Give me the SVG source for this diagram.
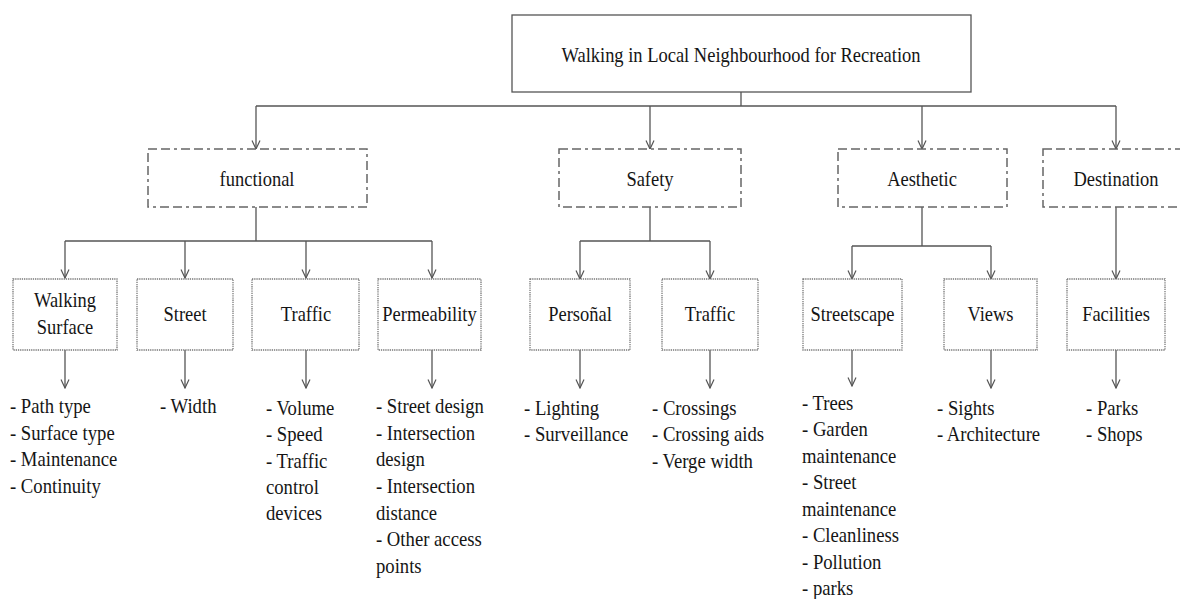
<svg xmlns="http://www.w3.org/2000/svg" width="1180" height="599" viewBox="0 0 1180 599" font-family="'Liberation Serif', 'DejaVu Serif', serif">
  <defs>
    <marker id="arrow" viewBox="0 0 10 10" refX="9.5" refY="5" markerWidth="10" markerHeight="10" markerUnits="userSpaceOnUse" orient="auto">
      <path d="M1,1 L9.5,5 L1,9" fill="none" stroke="#555" stroke-width="1.2"/>
    </marker>
    <style>
      text { font-family: 'Liberation Serif', 'DejaVu Serif', serif; font-size: 21px; fill: #151515; transform-box: fill-box; }
      .c { text-anchor: middle; transform-origin: center; transform: scaleX(0.88); }
      .l { text-anchor: start; transform-origin: left center; transform: scaleX(0.89); }
      .root { fill: #fff; stroke: #555; stroke-width: 1.3; }
      .cat { fill: #fff; stroke: #666; stroke-width: 1.5; stroke-dasharray: 9 4 9 4 3 4; }
      .sub { fill: #fff; stroke: #777; stroke-width: 1.3; stroke-dasharray: 1.3 0.9; }
      .wire { fill: none; stroke: #555; stroke-width: 1.3; }
      .arr { fill: none; stroke: #555; stroke-width: 1.3; marker-end: url(#arrow); }
    </style>
  </defs>

  <rect width="1180" height="599" fill="#fff"/>

  <!-- connectors -->
  <g id="connectors">
    <path class="wire" d="M741,92 V106 M256,106 H1116"/>
    <path class="arr" d="M256,106 V149"/>
    <path class="arr" d="M650,106 V149"/>
    <path class="arr" d="M922,106 V149"/>
    <path class="arr" d="M1116,106 V149"/>

    <path class="wire" d="M256,207 V241 M65,241 H432"/>
    <path class="arr" d="M65,241 V278"/>
    <path class="arr" d="M185,241 V278"/>
    <path class="arr" d="M306,241 V278"/>
    <path class="arr" d="M432,241 V278"/>

    <path class="wire" d="M650,207 V241 M580,241 H710"/>
    <path class="arr" d="M580,241 V279"/>
    <path class="arr" d="M710,241 V279"/>

    <path class="wire" d="M922,207 V246 M852,246 H991"/>
    <path class="arr" d="M852,246 V279"/>
    <path class="arr" d="M991,246 V279"/>

    <path class="arr" d="M1116,207 V279"/>

    <path class="arr" d="M65,350 V388"/>
    <path class="arr" d="M185,350 V388"/>
    <path class="arr" d="M306,350 V388"/>
    <path class="arr" d="M432,350 V388"/>
    <path class="arr" d="M580,350 V388"/>
    <path class="arr" d="M710,350 V388"/>
    <path class="arr" d="M852,350 V386"/>
    <path class="arr" d="M991,350 V388"/>
    <path class="arr" d="M1116,350 V388"/>
  </g>

  <!-- root -->
  <g id="root">
    <rect class="root" x="512" y="15" width="459" height="77"/>
    <text class="c" x="741" y="62">Walking in Local Neighbourhood for Recreation</text>
  </g>

  <!-- categories -->
  <g id="functional">
    <rect class="cat" x="148" y="149" width="219" height="58"/>
    <text class="c" x="257" y="186">functional</text>
  </g>
  <g id="safety">
    <rect class="cat" x="559" y="149" width="182" height="58"/>
    <text class="c" x="650" y="186">Safety</text>
  </g>
  <g id="aesthetic">
    <rect class="cat" x="838" y="149" width="169" height="58"/>
    <text class="c" x="922" y="186">Aesthetic</text>
  </g>
  <g id="destination">
    <rect class="cat" x="1043" y="149" width="160" height="58"/>
    <text class="c" x="1116" y="186">Destination</text>
  </g>

  <!-- functional factors -->
  <g id="walking-surface">
    <rect class="sub" x="13" y="279" width="104" height="71"/>
    <text class="c" x="65" y="307">Walking</text>
    <text class="c" x="65" y="334">Surface</text>
    <text class="l" x="10" y="413"><tspan x="10">- Path type</tspan><tspan x="10" dy="26.7">- Surface type</tspan><tspan x="10" dy="26.7">- Maintenance</tspan><tspan x="10" dy="26.7">- Continuity</tspan></text>
  </g>
  <g id="street">
    <rect class="sub" x="137" y="279" width="96" height="71"/>
    <text class="c" x="185" y="321">Street</text>
    <text class="l" x="160" y="413">- Width</text>
  </g>
  <g id="traffic-functional">
    <rect class="sub" x="252" y="279" width="107" height="71"/>
    <text class="c" x="306" y="321">Traffic</text>
    <text class="l" x="266" y="415"><tspan x="266">- Volume</tspan><tspan x="266" dy="26.3">- Speed</tspan><tspan x="266" dy="26.3">- Traffic</tspan><tspan x="266" dy="26.3">control</tspan><tspan x="266" dy="26.3">devices</tspan></text>
  </g>
  <g id="permeability">
    <rect class="sub" x="378" y="279" width="103" height="71"/>
    <text class="c" x="429.5" y="321">Permeability</text>
    <text class="l" x="376" y="413"><tspan x="376">- Street design</tspan><tspan x="376" dy="26.7">- Intersection</tspan><tspan x="376" dy="26.7">design</tspan><tspan x="376" dy="26.7">- Intersection</tspan><tspan x="376" dy="26.7">distance</tspan><tspan x="376" dy="26.7">- Other access</tspan><tspan x="376" dy="26.7">points</tspan></text>
  </g>

  <!-- safety factors -->
  <g id="personal">
    <rect class="sub" x="530" y="279" width="100" height="71"/>
    <text class="c" x="580" y="321">Persoñal</text>
    <text class="l" x="524" y="415"><tspan x="524">- Lighting</tspan><tspan x="524" dy="26.5">- Surveillance</tspan></text>
  </g>
  <g id="traffic-safety">
    <rect class="sub" x="662" y="279" width="96" height="71"/>
    <text class="c" x="710" y="321">Traffic</text>
    <text class="l" x="652" y="415"><tspan x="652">- Crossings</tspan><tspan x="652" dy="26.5">- Crossing aids</tspan><tspan x="652" dy="26.5">- Verge width</tspan></text>
  </g>

  <!-- aesthetic factors -->
  <g id="streetscape">
    <rect class="sub" x="803" y="279" width="99" height="71"/>
    <text class="c" x="852.5" y="321">Streetscape</text>
    <text class="l" x="802" y="410"><tspan x="802">- Trees</tspan><tspan x="802" dy="26.5">- Garden</tspan><tspan x="802" dy="26.5">maintenance</tspan><tspan x="802" dy="26.5">- Street</tspan><tspan x="802" dy="26.5">maintenance</tspan><tspan x="802" dy="26.5">- Cleanliness</tspan><tspan x="802" dy="26.5">- Pollution</tspan><tspan x="802" dy="26.5">- parks</tspan></text>
  </g>
  <g id="views">
    <rect class="sub" x="944" y="279" width="93" height="71"/>
    <text class="c" x="990.5" y="321">Views</text>
    <text class="l" x="937" y="415"><tspan x="937">- Sights</tspan><tspan x="937" dy="26.5">- Architecture</tspan></text>
  </g>

  <!-- destination factors -->
  <g id="facilities">
    <rect class="sub" x="1067" y="279" width="98" height="71"/>
    <text class="c" x="1116" y="321">Facilities</text>
    <text class="l" x="1086" y="415"><tspan x="1086">- Parks</tspan><tspan x="1086" dy="26.5">- Shops</tspan></text>
  </g>
</svg>
